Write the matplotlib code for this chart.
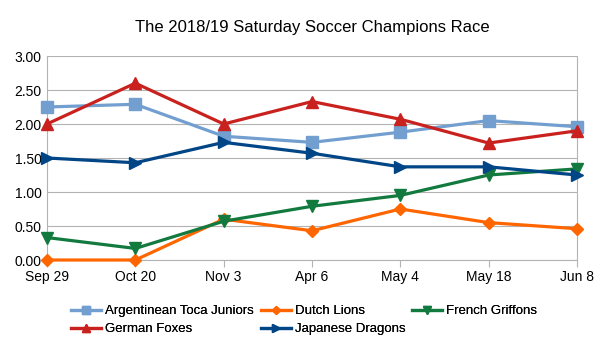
import matplotlib
matplotlib.use("Agg")
import matplotlib.pyplot as plt

plt.rcParams["font.family"] = ["Liberation Sans", "DejaVu Sans"]

dates = ["Sep 29", "Oct 20", "Nov 3", "Apr 6", "May 4", "May 18", "Jun 8"]
y_ticks = [0.0, 0.5, 1.0, 1.5, 2.0, 2.5, 3.0]

argentinean = [2.25, 2.29, 1.82, 1.73, 1.88, 2.05, 1.96]
dutch = [0.00, 0.00, 0.60, 0.43, 0.75, 0.55, 0.46]
french = [0.33, 0.17, 0.57, 0.79, 0.95, 1.25, 1.34]
german = [2.00, 2.60, 2.00, 2.33, 2.07, 1.72, 1.90]
japanese = [1.50, 1.43, 1.73, 1.57, 1.37, 1.37, 1.25]

series = [
    ("Argentinean Toca Juniors", argentinean, "#729fcf", "s"),
    ("Dutch Lions", dutch, "#ff6600", "D"),
    ("French Griffons", french, "#127a3e", "v"),
    ("German Foxes", german, "#c9211e", "^"),
    ("Japanese Dragons", japanese, "#004586", ">"),
]

W, H = 605, 340
fig = plt.figure(figsize=(W / 100, H / 100), dpi=100)
ax = fig.add_axes([47 / W, 80 / H, 530 / W, 204 / H])

x = list(range(len(dates)))
lines = []
for name, vals, color, marker in series:
    ms = 6 if marker == "D" else 8
    ln, = ax.plot(x, vals, color=color, lw=2.3, marker=marker, markersize=ms,
                  label=name, clip_on=False, zorder=3)
    lines.append(ln)

ax.set_xlim(0, len(dates) - 1)
ax.set_ylim(0, 3)
ax.set_xticks(x)
ax.set_xticklabels(dates, fontsize=10)
ax.set_yticks(y_ticks)
ax.set_yticklabels([f"{v:.2f}" for v in y_ticks], fontsize=10)
ax.grid(axis="y", color="#b3b3b3", lw=0.8)
ax.set_axisbelow(True)
ax.spines["top"].set_visible(False)
for side in ["left", "right", "bottom"]:
    ax.spines[side].set_color("#b3b3b3")
    ax.spines[side].set_linewidth(0.8)
ax.tick_params(axis="x", length=5, color="#b3b3b3", pad=2)
ax.tick_params(axis="y", length=0, pad=4)

ax.set_title("The 2018/19 Saturday Soccer Champions Race", fontsize=12, pad=17)

# legend laid out row by row in three fixed-width columns
columns = [(lines[0], lines[3]), (lines[1], lines[4]), (lines[2],)]
col_x = [71, 261, 412]
for handles, cx in zip(columns, col_x):
    leg = fig.legend(handles=list(handles), loc="upper left",
                     bbox_to_anchor=(cx / W, 1 - 305 / H), frameon=False,
                     fontsize=9.5, handlelength=2.3, handletextpad=0.25,
                     labelspacing=0.45, markerscale=0.7, borderpad=0,
                     borderaxespad=0)
    fig.add_artist(leg)

fig.savefig("out.png", dpi=100)
